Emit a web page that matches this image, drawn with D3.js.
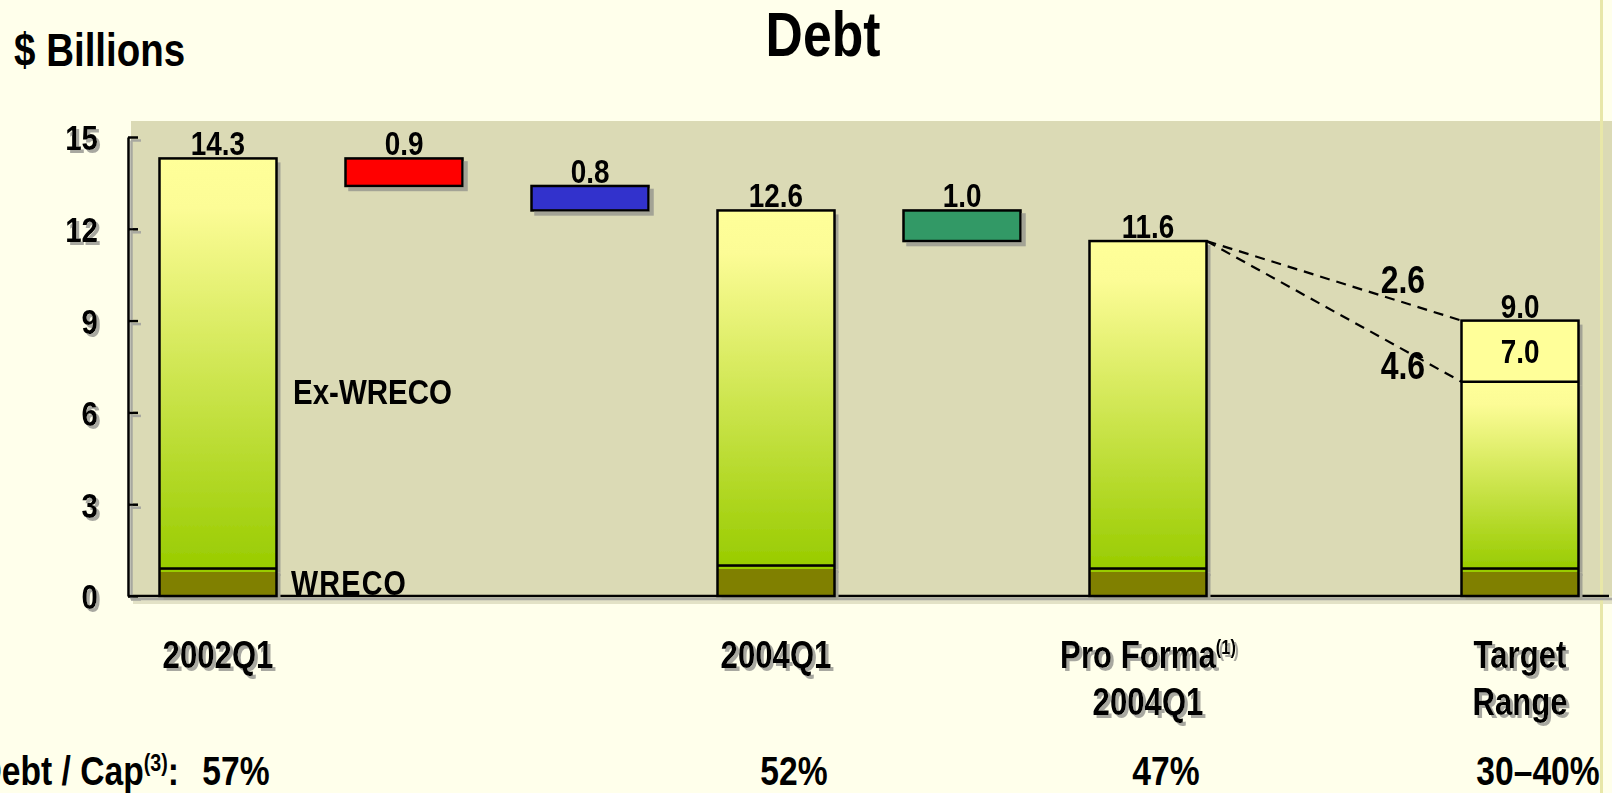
<!DOCTYPE html>
<html>
<head>
<meta charset="utf-8">
<script src="https://cdn.jsdelivr.net/npm/d3@7"></script>
<style>
  html, body { margin: 0; padding: 0; background: #FFFFEB; overflow: hidden; }
  svg { display: block; }
  text { font-family: "Liberation Sans", Arial, sans-serif; font-weight: bold; fill: #000; }
</style>
</head>
<body>
<script>
// ---- data ----
const categories   = ["2002Q1", "2004Q1", "Pro Forma 2004Q1", "Target Range"];
const totalDebt    = [14.3, 12.6, 11.6, 9.0];
const wrecoDebt    = [0.9, 1.0, 0.9, 0.9];
const targetLow    = 7.0;
const bridgeSteps  = ["Step 1", "Step 2", "Step 3"];
const bridgeChange = [0.9, 0.8, 1.0];
const debtToCap    = ["57%", "52%", "47%", "30\u201340%"];
const yTicks       = [0, 3, 6, 9, 12, 15];
const categoryLines = [["2002Q1"], ["2004Q1"], ["Pro Forma", "2004Q1"], ["Target", "Range"]];

// ---- layout & style ----
const W = 1612, H = 793;
const NARROW = 0.82;                       // horizontal squeeze for a condensed face
const bridgeColors = ["#FF0000", "#3333CC", "#339966"];
const slotOrder = ["2002Q1", "Step 1", "Step 2", "2004Q1", "Step 3", "Pro Forma 2004Q1", "spacer", "Target Range"];

const svg = d3.select("body").append("svg").attr("width", W).attr("height", H);
const defs = svg.append("defs");

const grad = defs.append("linearGradient").attr("id", "exGrad")
  .attr("x1", 0).attr("y1", 0).attr("x2", 0).attr("y2", 1);
grad.append("stop").attr("offset", "0%").attr("stop-color", "#FFFF99");
grad.append("stop").attr("offset", "12%").attr("stop-color", "#FCFC96");
grad.append("stop").attr("offset", "100%").attr("stop-color", "#99CC00");

function shadowFilter(id, dx, dy, color) {
  const f = defs.append("filter").attr("id", id)
    .attr("x", "-10%").attr("y", "-10%").attr("width", "130%").attr("height", "130%")
    .attr("filterUnits", "objectBoundingBox");
  f.append("feDropShadow").attr("dx", dx).attr("dy", dy).attr("stdDeviation", 0)
    .attr("flood-color", color).attr("flood-opacity", 1);
}
shadowFilter("barShadow", 4, 4, "#A3A395");
shadowFilter("textShadow", 3, 3, "#A8A8A0");

const x = d3.scalePoint().domain(slotOrder).range([218, 1520]);
const y = d3.scaleLinear().domain([0, 15]).range([596, 137]);
const barW = 117;

// text helper: condensed bold text anchored at (tx, ty)
function label(parent, tx, ty, str, size, anchor) {
  return parent.append("text")
    .attr("transform", `translate(${tx},${ty}) scale(${NARROW},1)`)
    .attr("font-size", size)
    .attr("text-anchor", anchor || "middle")
    .text(str);
}

// ---- background ----
svg.append("rect").attr("x", 133).attr("y", 596).attr("width", W - 133).attr("height", 8).attr("fill", "#E3E2C6");
svg.append("rect").attr("x", 131).attr("y", 121).attr("width", W - 131).attr("height", 596 - 121).attr("fill", "#DBDAB5");
svg.append("line").attr("x1", 1601.5).attr("x2", 1601.5).attr("y1", 0).attr("y2", H)
  .attr("stroke", "#E8E7A8").attr("stroke-width", 3);

// ---- titles ----
label(svg, 823, 56, "Debt", 63);
label(svg, 14, 66, "$ Billions", 47, "start");

// ---- axes ----
const axisG = svg.append("g").attr("transform", "translate(128,0)").attr("filter", "url(#textShadow)");
axisG.call(d3.axisLeft(y).tickValues(yTicks).tickSizeInner(-10).tickSizeOuter(0).tickPadding(30 / NARROW));
axisG.select(".domain").attr("stroke", "#000").attr("stroke-width", 2.5);
axisG.selectAll(".tick line").attr("stroke", "#000").attr("stroke-width", 2.5);
axisG.selectAll(".tick text")
  .attr("transform", `scale(${NARROW},1)`)
  .attr("font-size", 36).attr("font-family", "Liberation Sans, Arial, sans-serif")
  .attr("font-weight", "bold").attr("dy", "0.36em");
// category baseline along zero
axisG.append("line").attr("x1", 0).attr("x2", 1609 - 128).attr("y1", y(0)).attr("y2", y(0))
  .attr("stroke", "#000").attr("stroke-width", 2.5);

// ---- stacked debt columns ----
const colG = svg.append("g");
categories.forEach((c, i) => {
  const cx = x(c), left = cx - barW / 2;
  const g = colG.append("g").attr("filter", "url(#barShadow)");
  // Ex-WRECO portion
  if (c === "Target Range") {
    g.append("rect").attr("x", left).attr("y", y(targetLow)).attr("width", barW)
      .attr("height", y(wrecoDebt[i]) - y(targetLow)).attr("fill", "url(#exGrad)");
    g.append("rect").attr("x", left).attr("y", y(totalDebt[i])).attr("width", barW)
      .attr("height", y(targetLow) - y(totalDebt[i])).attr("fill", "#FFFF99");
  } else {
    g.append("rect").attr("x", left).attr("y", y(totalDebt[i])).attr("width", barW)
      .attr("height", y(wrecoDebt[i]) - y(totalDebt[i])).attr("fill", "url(#exGrad)");
  }
  // WRECO portion
  g.append("rect").attr("x", left).attr("y", y(wrecoDebt[i])).attr("width", barW)
    .attr("height", y(0) - y(wrecoDebt[i])).attr("fill", "#808000");
  g.append("line").attr("x1", left).attr("x2", left + barW)
    .attr("y1", y(wrecoDebt[i]) + 2.5).attr("y2", y(wrecoDebt[i]) + 2.5)
    .attr("stroke", "#99CC00").attr("stroke-width", 2);
  // outlines
  const o = colG.append("g").attr("fill", "none").attr("stroke", "#000").attr("stroke-width", 2.5);
  o.append("rect").attr("x", left).attr("y", y(totalDebt[i])).attr("width", barW)
    .attr("height", y(0) - y(totalDebt[i]));
  o.append("line").attr("x1", left).attr("x2", left + barW)
    .attr("y1", y(wrecoDebt[i])).attr("y2", y(wrecoDebt[i]));
  if (c === "Target Range") {
    o.append("line").attr("x1", left).attr("x2", left + barW)
      .attr("y1", y(targetLow)).attr("y2", y(targetLow));
  }
  label(svg, cx, y(totalDebt[i]) - 3, totalDebt[i].toFixed(1), 34);
});

// ---- bridge (waterfall) bars ----
let running = totalDebt[0];
bridgeSteps.forEach((s, i) => {
  const top = running, bottom = running - bridgeChange[i];
  running = bottom;
  const cx = x(s);
  svg.append("rect").attr("x", cx - barW / 2).attr("y", y(top)).attr("width", barW)
    .attr("height", y(bottom) - y(top)).attr("fill", bridgeColors[i])
    .attr("stroke", "#000").attr("stroke-width", 2.5).attr("filter", "url(#barShadow)");
  label(svg, cx, y(top) - 3, bridgeChange[i].toFixed(1), 34);
});

// ---- target inner label & dashed connectors ----
const tIdx = 3, pIdx = 2;
const tLeft = x(categories[tIdx]) - barW / 2;
const pRight = x(categories[pIdx]) + barW / 2;
label(svg, x(categories[tIdx]), (y(totalDebt[tIdx]) + y(targetLow)) / 2 + 12, targetLow.toFixed(1), 34);

const x0 = pRight, y0 = y(totalDebt[pIdx]);
[[totalDebt[tIdx], -9], [targetLow, 30]].forEach(([v, off]) => {
  svg.append("line").attr("x1", x0).attr("y1", y0).attr("x2", tLeft).attr("y2", y(v))
    .attr("stroke", "#000").attr("stroke-width", 2.2).attr("stroke-dasharray", "10,7");
  const lx = x0 + (tLeft - x0) * 0.77;
  const ly = y0 + (y(v) - y0) * 0.77;
  label(svg, lx, ly + off, (totalDebt[pIdx] - v).toFixed(1), 39);
});

// ---- side labels ----
label(svg, 293, 404, "Ex-WRECO", 36, "start");
label(svg, 291, 595, "WRECO", 35, "start").attr("letter-spacing", 1.5);

// ---- category labels ----
const catG = svg.append("g").attr("filter", "url(#textShadow)");
categoryLines.forEach((lines, i) => {
  lines.forEach((ln, j) => {
    const t = label(catG, x(categories[i]), 668 + j * 47, ln, 38);
    if (ln === "Pro Forma") {
      t.append("tspan").attr("font-size", 20).attr("dy", -14).text("(1)");
    }
  });
});

// ---- debt-to-capital row ----
const capLabel = label(svg, 179, 785, "Debt / Cap", 41, "end");
capLabel.append("tspan").attr("font-size", 24).attr("dy", -14).text("(3)");
capLabel.append("tspan").attr("dy", 14).text(":");
debtToCap.forEach((p, i) => {
  label(svg, x(categories[i]) + 18, 785, p, 41);
});
</script>
</body>
</html>
